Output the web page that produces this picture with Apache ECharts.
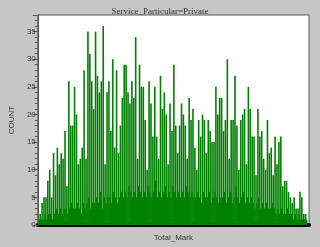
<!DOCTYPE html>
<html>
<head>
<meta charset="utf-8">
<script src="https://cdn.jsdelivr.net/npm/echarts@6/dist/echarts.min.js"></script>
<style>
html,body{margin:0;padding:0;background:#c6c6c6;}
#chart{width:320px;height:247px;}
</style>
</head>
<body>
<div id="chart"></div>
<script>
const chartTitle = 'Service_Particular=Private';
const xAxisName = 'Total_Mark';
const yAxisName = 'COUNT';
const yTickValues = [0, 5, 10, 15, 20, 25, 30, 35];

// tall (peak) bars, left to right
const peakCounts = [
  1, 2, 4, 5, 5, 8, 10, 5, 13, 9, 14, 11, 13, 12, 17, 7, 26, 18, 18, 25,
  20, 11, 12, 14, 28, 12, 35, 31, 26, 21, 35, 27, 24, 26, 36, 11, 24, 26, 17, 30,
  14, 28, 13, 18, 23, 29, 29, 24, 22,
  26, 23, 34, 12, 29, 25, 25, 19, 10, 26, 22, 16, 25, 16, 12, 27, 21, 24, 20, 11,
  22, 17, 29, 18, 13, 18, 22, 20, 18, 12, 23, 19, 21, 14, 10, 19, 16, 20, 19, 13,
  19, 17, 15, 15, 25, 20, 23,
  23, 17, 19, 30, 12, 19, 19, 27, 18, 10, 19, 20, 21, 11, 25, 21, 16, 16, 9, 21,
  16, 17, 12, 10, 19, 13, 14, 9, 16, 11, 15, 16, 7, 8, 8, 6, 5, 4, 5, 3,
  3, 6, 5, 2, 2, 0
];
// short (valley) bars between the peaks
const valleyCounts = [
  1, 1, 1, 2, 1, 2, 2, 1, 2, 3, 2, 3, 2, 3, 3, 2, 3, 4, 3, 3,
  4, 3, 2, 4, 3, 4, 5, 3, 4, 4, 5, 4, 6, 3, 5, 4, 5, 5, 4, 6,
  5, 4, 5, 6, 5, 6, 5, 7, 6,
  5, 6, 5, 7, 6, 5, 6, 5, 7, 6, 5, 6, 8, 5, 6, 5, 6, 7, 5, 6,
  5, 7, 6, 5, 6, 5, 6, 5, 7, 6, 5, 6, 5, 5, 6, 5, 4, 6, 5, 5,
  6, 4, 5, 6, 5, 4, 5,
  5, 6, 4, 5, 6, 4, 5, 7, 5, 4, 5, 6, 4, 5, 4, 5, 4, 3, 4, 5,
  3, 4, 3, 4, 3, 3, 4, 3, 2, 3, 2, 3, 2, 2, 3, 2, 2, 1, 2, 1,
  2, 1, 1, 1, 1, 0
];

const counts = [];
for (let i = 0; i < peakCounts.length; i++) {
  counts.push(peakCounts[i]);
  counts.push(valleyCounts[i]);
}
const markBins = counts.map((_, i) => String(i + 1));

const chart = echarts.init(document.getElementById('chart'), null, {renderer: 'canvas'});
chart.setOption({
  animation: false,
  backgroundColor: '#c6c6c6',
  title: {
    text: chartTitle,
    left: 'center',
    top: 2,
    textStyle: {fontFamily: 'Liberation Serif', fontSize: 9, fontWeight: 'normal', color: '#333'}
  },
  grid: {
    left: 26, right: 11, top: 15, bottom: 18,
    show: true, backgroundColor: '#ffffff', borderColor: '#5a5a5a', borderWidth: 1
  },
  xAxis: {
    type: 'category',
    data: markBins,
    name: xAxisName,
    nameLocation: 'middle',
    nameGap: 7,
    nameTextStyle: {fontFamily: 'Liberation Sans', fontSize: 8, color: '#333'},
    offset: 2,
    axisLine: {show: true, lineStyle: {color: '#000', width: 4}},
    axisTick: {show: false},
    axisLabel: {show: false},
    splitLine: {show: false}
  },
  yAxis: {
    type: 'value',
    min: 0, max: 38, interval: 5,
    name: yAxisName,
    nameLocation: 'middle',
    nameGap: 18,
    nameTextStyle: {fontFamily: 'Liberation Sans', fontSize: 8, color: '#333'},
    axisLine: {show: true, lineStyle: {color: '#555'}},
    axisTick: {show: true, length: 5, lineStyle: {color: '#555'}},
    minorTick: {show: true, splitNumber: 5, length: 3, lineStyle: {color: '#555'}},
    axisLabel: {
      fontFamily: 'Liberation Sans', fontSize: 8, color: '#333', margin: 2,
      formatter: v => (yTickValues.indexOf(v) >= 0 ? String(v) : '')
    },
    splitLine: {show: false}
  },
  series: [{
    type: 'bar',
    data: counts,
    barWidth: 1.6,
    itemStyle: {color: '#008000'}
  }]
});
</script>
</body>
</html>
